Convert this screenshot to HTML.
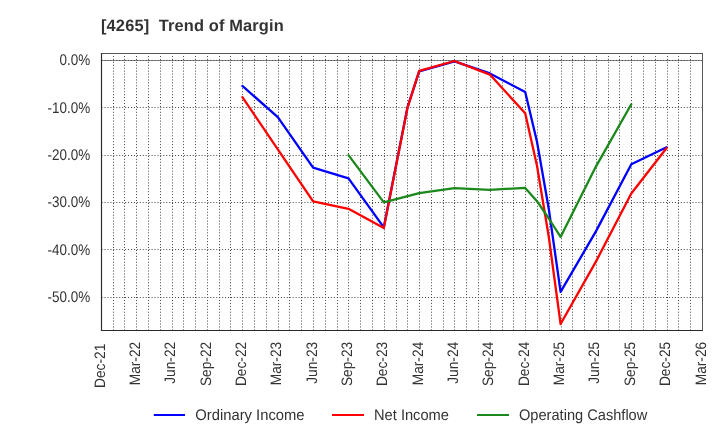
<!DOCTYPE html>
<html lang="en"><head><meta charset="utf-8"><title>[4265] Trend of Margin</title>
<style>html,body{margin:0;padding:0;background:#fff}svg{display:block}text{font-family:"Liberation Sans",sans-serif;fill:#333;text-rendering:geometricPrecision}</style>
</head><body>
<svg width="720" height="440" viewBox="0 0 720 440">
<rect width="720" height="440" fill="#fff"/>
<text x="101" y="31" font-size="16.4" font-weight="bold" letter-spacing="0.15" style="white-space:pre">[4265]  Trend of Margin</text>
<line x1="101.5" y1="60.5" x2="702.5" y2="60.5" stroke="#8c8c8c" stroke-width="1"/>
<g stroke="#444" stroke-width="1" stroke-dasharray="1 1.94" fill="none">
<line x1="113.5" y1="53.0" x2="113.5" y2="330.5"/>
<line x1="124.5" y1="53.0" x2="124.5" y2="330.5"/>
<line x1="136.5" y1="53.0" x2="136.5" y2="330.5"/>
<line x1="148.5" y1="53.0" x2="148.5" y2="330.5"/>
<line x1="160.5" y1="53.0" x2="160.5" y2="330.5"/>
<line x1="172.5" y1="53.0" x2="172.5" y2="330.5"/>
<line x1="183.5" y1="53.0" x2="183.5" y2="330.5"/>
<line x1="195.5" y1="53.0" x2="195.5" y2="330.5"/>
<line x1="207.5" y1="53.0" x2="207.5" y2="330.5"/>
<line x1="219.5" y1="53.0" x2="219.5" y2="330.5"/>
<line x1="230.5" y1="53.0" x2="230.5" y2="330.5"/>
<line x1="242.5" y1="53.0" x2="242.5" y2="330.5"/>
<line x1="254.5" y1="53.0" x2="254.5" y2="330.5"/>
<line x1="266.5" y1="53.0" x2="266.5" y2="330.5"/>
<line x1="278.5" y1="53.0" x2="278.5" y2="330.5"/>
<line x1="289.5" y1="53.0" x2="289.5" y2="330.5"/>
<line x1="301.5" y1="53.0" x2="301.5" y2="330.5"/>
<line x1="313.5" y1="53.0" x2="313.5" y2="330.5"/>
<line x1="325.5" y1="53.0" x2="325.5" y2="330.5"/>
<line x1="337.5" y1="53.0" x2="337.5" y2="330.5"/>
<line x1="348.5" y1="53.0" x2="348.5" y2="330.5"/>
<line x1="360.5" y1="53.0" x2="360.5" y2="330.5"/>
<line x1="372.5" y1="53.0" x2="372.5" y2="330.5"/>
<line x1="384.5" y1="53.0" x2="384.5" y2="330.5"/>
<line x1="396.5" y1="53.0" x2="396.5" y2="330.5"/>
<line x1="407.5" y1="53.0" x2="407.5" y2="330.5"/>
<line x1="419.5" y1="53.0" x2="419.5" y2="330.5"/>
<line x1="431.5" y1="53.0" x2="431.5" y2="330.5"/>
<line x1="443.5" y1="53.0" x2="443.5" y2="330.5"/>
<line x1="454.5" y1="53.0" x2="454.5" y2="330.5"/>
<line x1="466.5" y1="53.0" x2="466.5" y2="330.5"/>
<line x1="478.5" y1="53.0" x2="478.5" y2="330.5"/>
<line x1="490.5" y1="53.0" x2="490.5" y2="330.5"/>
<line x1="502.5" y1="53.0" x2="502.5" y2="330.5"/>
<line x1="513.5" y1="53.0" x2="513.5" y2="330.5"/>
<line x1="525.5" y1="53.0" x2="525.5" y2="330.5"/>
<line x1="537.5" y1="53.0" x2="537.5" y2="330.5"/>
<line x1="549.5" y1="53.0" x2="549.5" y2="330.5"/>
<line x1="561.5" y1="53.0" x2="561.5" y2="330.5"/>
<line x1="572.5" y1="53.0" x2="572.5" y2="330.5"/>
<line x1="584.5" y1="53.0" x2="584.5" y2="330.5"/>
<line x1="596.5" y1="53.0" x2="596.5" y2="330.5"/>
<line x1="608.5" y1="53.0" x2="608.5" y2="330.5"/>
<line x1="619.5" y1="53.0" x2="619.5" y2="330.5"/>
<line x1="631.5" y1="53.0" x2="631.5" y2="330.5"/>
<line x1="643.5" y1="53.0" x2="643.5" y2="330.5"/>
<line x1="655.5" y1="53.0" x2="655.5" y2="330.5"/>
<line x1="667.5" y1="53.0" x2="667.5" y2="330.5"/>
<line x1="678.5" y1="53.0" x2="678.5" y2="330.5"/>
<line x1="690.5" y1="53.0" x2="690.5" y2="330.5"/>
<line x1="101.6" y1="60.5" x2="702.5" y2="60.5"/>
<line x1="101.6" y1="107.5" x2="702.5" y2="107.5"/>
<line x1="101.6" y1="155.5" x2="702.5" y2="155.5"/>
<line x1="101.6" y1="202.5" x2="702.5" y2="202.5"/>
<line x1="101.6" y1="249.5" x2="702.5" y2="249.5"/>
<line x1="101.6" y1="297.5" x2="702.5" y2="297.5"/>
</g>
<rect x="101.5" y="53.5" width="601.0" height="277.0" fill="none" stroke="#555" stroke-width="1"/>
<line x1="101.5" y1="53.5" x2="101.5" y2="331.0" stroke="#2a2a2a" stroke-width="1.15"/>
<line x1="101.0" y1="330.5" x2="702.5" y2="330.5" stroke="#2a2a2a" stroke-width="1.15"/>
<g fill="none" stroke-width="2.3" stroke-linejoin="round" stroke-linecap="round">
<polyline stroke="#0000ff" points="242.4,85.9 277.8,117.2 313.1,167.7 348.5,178.4 383.8,227.3 407.4,107.7 419.2,71.3 454.5,61.4 489.9,73.4 525.2,92.0 537.0,141.7 548.8,209.0 560.6,291.9 595.9,231.4 631.3,164.2 666.6,147.3"/>
<polyline stroke="#ff0000" points="242.4,97.2 277.8,149.3 313.1,201.4 348.5,208.8 383.8,228.1 407.4,108.2 419.2,70.9 454.5,61.0 489.9,74.6 525.2,113.3 537.0,165.7 548.8,237.0 560.6,324.0 595.9,261.6 631.3,193.5 666.6,148.0"/>
<polyline stroke="#1a881a" points="348.5,155.1 383.8,202.4 419.2,193.2 454.5,188.1 489.9,189.8 525.2,187.9 537.0,201.2 548.8,218.5 560.6,236.9 595.9,166.6 631.3,104.2"/>
</g>
<g font-size="15.4" text-anchor="end">
<text transform="translate(90.2,64.5) scale(0.875,1)">0.0%</text>
<text transform="translate(90.2,112.6) scale(0.875,1)">-10.0%</text>
<text transform="translate(90.2,160.0) scale(0.875,1)">-20.0%</text>
<text transform="translate(90.2,207.4) scale(0.875,1)">-30.0%</text>
<text transform="translate(90.2,254.7) scale(0.875,1)">-40.0%</text>
<text transform="translate(90.2,302.1) scale(0.875,1)">-50.0%</text>
</g>
<g font-size="15.1" text-anchor="end">
<text transform="translate(104.5,343.7) rotate(-90) scale(0.91,1)">Dec-21</text>
<text transform="translate(139.9,341.8) rotate(-90) scale(0.91,1)">Mar-22</text>
<text transform="translate(175.2,341.8) rotate(-90) scale(0.91,1)">Jun-22</text>
<text transform="translate(210.6,341.8) rotate(-90) scale(0.91,1)">Sep-22</text>
<text transform="translate(245.9,341.8) rotate(-90) scale(0.91,1)">Dec-22</text>
<text transform="translate(281.3,341.8) rotate(-90) scale(0.91,1)">Mar-23</text>
<text transform="translate(316.6,341.8) rotate(-90) scale(0.91,1)">Jun-23</text>
<text transform="translate(352.0,341.8) rotate(-90) scale(0.91,1)">Sep-23</text>
<text transform="translate(387.3,341.8) rotate(-90) scale(0.91,1)">Dec-23</text>
<text transform="translate(422.7,341.8) rotate(-90) scale(0.91,1)">Mar-24</text>
<text transform="translate(458.0,341.8) rotate(-90) scale(0.91,1)">Jun-24</text>
<text transform="translate(493.4,341.8) rotate(-90) scale(0.91,1)">Sep-24</text>
<text transform="translate(528.7,341.8) rotate(-90) scale(0.91,1)">Dec-24</text>
<text transform="translate(564.1,341.8) rotate(-90) scale(0.91,1)">Mar-25</text>
<text transform="translate(599.4,341.8) rotate(-90) scale(0.91,1)">Jun-25</text>
<text transform="translate(634.8,341.8) rotate(-90) scale(0.91,1)">Sep-25</text>
<text transform="translate(670.1,341.8) rotate(-90) scale(0.91,1)">Dec-25</text>
<text transform="translate(705.5,341.8) rotate(-90) scale(0.91,1)">Mar-26</text>
</g>
<g font-size="15.3">
<line x1="153.8" y1="415" x2="185" y2="415" stroke="#0000ff" stroke-width="2"/>
<text transform="translate(195.3,420) scale(0.966,1)">Ordinary Income</text>
<line x1="332" y1="415" x2="364" y2="415" stroke="#ff0000" stroke-width="2"/>
<text transform="translate(374,420) scale(0.958,1)">Net Income</text>
<line x1="477" y1="415" x2="509" y2="415" stroke="#1a881a" stroke-width="2"/>
<text transform="translate(519,420) scale(0.955,1)">Operating Cashflow</text>
</g>
</svg></body></html>
